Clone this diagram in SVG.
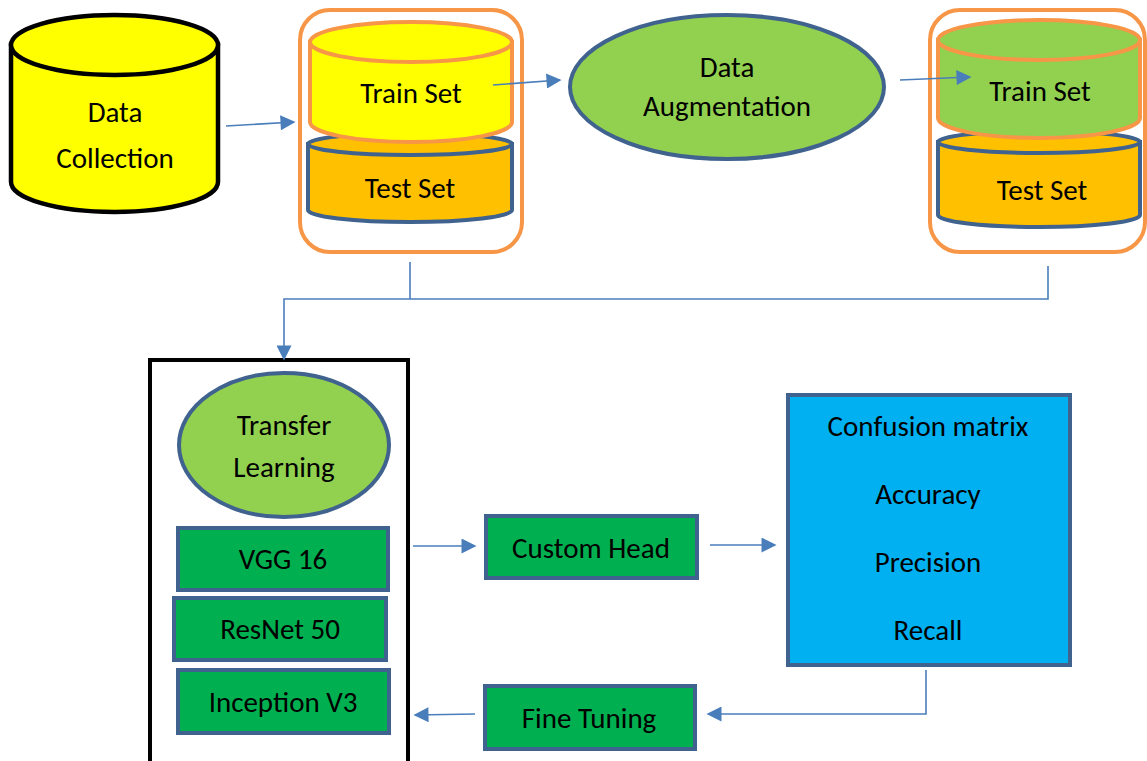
<svg xmlns="http://www.w3.org/2000/svg" width="1147" height="761" viewBox="0 0 1147 761">
<style>
.t{font-family:Carlito,Lato,"Liberation Sans",sans-serif;font-size:29px;fill:#000;text-anchor:middle}
.c{stroke:#4A7EBB;stroke-width:1.6;fill:none}
.bs{stroke:#3F628F;stroke-width:4}
.os{stroke:#F79646;stroke-width:4}
.gb{fill:#00B050;stroke:#3F628F;stroke-width:4}
</style>
<defs>
<marker id="ah2" viewBox="0 0 10 10" refX="9" refY="5" markerWidth="17" markerHeight="15" markerUnits="userSpaceOnUse" orient="auto">
<path d="M0,0 L10,5 L0,10 Z" fill="#4A7EBB"/>
</marker>
</defs>

<g id="data-collection">
<path d="M11,45 L11,182 A103.5,30 0 0 0 218,182 L218,45 Z" fill="#FFFF00" stroke="#000" stroke-width="4.5"/>
<ellipse cx="114.5" cy="45" rx="103.5" ry="30" fill="#FFFF00" stroke="#000" stroke-width="4.5"/>
<text class="t" x="115" y="122">Data</text>
<text class="t" x="115" y="168">Collection</text>
</g>

<g id="split-1">
<rect x="300" y="10" width="222" height="242" rx="30" fill="none" class="os"/>
<g id="test-set-1">
<path d="M308,144 L308,210 A102,12 0 0 0 512,210 L512,144 Z" fill="#FFC000" class="bs"/>
<ellipse cx="410" cy="144" rx="102" ry="11" fill="#FFC000" class="bs"/>
<text class="t" x="410" y="198">Test Set</text>
</g>
<g id="train-set-1">
<path d="M310,42 L310,122 A101,20 0 0 0 512,122 L512,42 Z" fill="#FFFF00" class="os"/>
<ellipse cx="411" cy="42" rx="101" ry="20" fill="#FFFF00" class="os"/>
<text class="t" x="411" y="103">Train Set</text>
</g>
</g>

<g id="data-augmentation">
<ellipse cx="727" cy="87" rx="157" ry="72" fill="#92D050" class="bs"/>
<text class="t" x="727" y="77">Data</text>
<text class="t" x="727" y="116">Augmentation</text>
</g>

<g id="split-2">
<rect x="930" y="10" width="215" height="242" rx="30" fill="none" class="os"/>
<g id="test-set-2">
<path d="M938,142 L938,215 A101,12 0 0 0 1140,215 L1140,142 Z" fill="#FFC000" class="bs"/>
<ellipse cx="1039" cy="142" rx="101" ry="11" fill="#FFC000" class="bs"/>
<text class="t" x="1042" y="200">Test Set</text>
</g>
<g id="train-set-2">
<path d="M938,40 L938,118 A101,20 0 0 0 1140,118 L1140,40 Z" fill="#92D050" class="os"/>
<ellipse cx="1039" cy="40" rx="101" ry="20" fill="#92D050" class="os"/>
<text class="t" x="1040" y="101">Train Set</text>
</g>
</g>

<g id="model-block">
<rect x="150" y="360" width="258" height="410" fill="none" stroke="#000" stroke-width="4"/>
<g id="transfer-learning">
<ellipse cx="284" cy="445" rx="105" ry="72" fill="#92D050" class="bs"/>
<text class="t" x="284" y="435">Transfer</text>
<text class="t" x="284" y="477">Learning</text>
</g>
<g id="vgg16">
<rect x="178" y="528" width="210" height="62" class="gb"/>
<text class="t" x="283" y="569">VGG 16</text>
</g>
<g id="resnet50">
<rect x="174" y="598" width="212" height="62" class="gb"/>
<text class="t" x="280" y="639">ResNet 50</text>
</g>
<g id="inception-v3">
<rect x="178" y="670" width="211" height="63" class="gb"/>
<text class="t" x="283" y="712">Inception V3</text>
</g>
</g>

<g id="custom-head">
<rect x="486" y="516" width="211" height="62" class="gb"/>
<text class="t" x="591" y="558">Custom Head</text>
</g>

<g id="metrics">
<rect x="788" y="395" width="282" height="270" fill="#00B0F0" class="bs"/>
<text class="t" x="928" y="436">Confusion matrix</text>
<text class="t" x="928" y="504">Accuracy</text>
<text class="t" x="928" y="572">Precision</text>
<text class="t" x="928" y="640">Recall</text>
</g>

<g id="fine-tuning">
<rect x="485" y="686" width="210" height="63" class="gb"/>
<text class="t" x="589" y="728">Fine Tuning</text>
</g>

<g id="connectors">
<path class="c" d="M226,126 L294,122" marker-end="url(#ah2)"/>
<path class="c" d="M493,85 L560,80" marker-end="url(#ah2)"/>
<path class="c" d="M900,80 L970,77" marker-end="url(#ah2)"/>
<path class="c" d="M410,262 L410,299"/>
<path class="c" d="M1048,266 L1048,299 L284,299 L284,359" marker-end="url(#ah2)"/>
<path class="c" d="M413,546 L475,546" marker-end="url(#ah2)"/>
<path class="c" d="M710,545 L775,545" marker-end="url(#ah2)"/>
<path class="c" d="M926,670 L926,714 L708,714" marker-end="url(#ah2)"/>
<path class="c" d="M475,714 L415,715" marker-end="url(#ah2)"/>
</g>
</svg>
